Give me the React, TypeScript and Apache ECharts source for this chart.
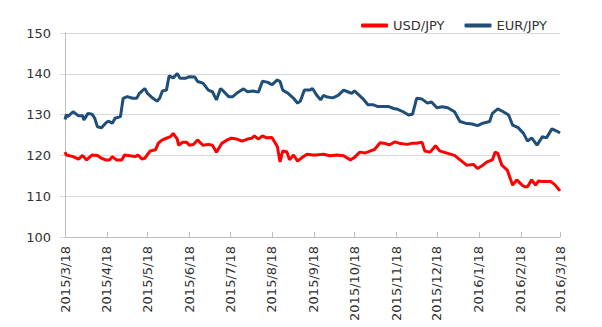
import React, { useEffect, useRef } from "react";
import * as echarts from "echarts";

const xTickLabels = [
  "2015/3/18", "2015/4/18", "2015/5/18", "2015/6/18", "2015/7/18", "2015/8/18", "2015/9/18",
  "2015/10/18", "2015/11/18", "2015/12/18", "2016/1/18", "2016/2/18", "2016/3/18",
];
const yTicks = [100, 110, 120, 130, 140, 150];

const usdDates = [
  "2015/3/18", "2015/3/19", "2015/3/24", "2015/3/28", "2015/3/31", "2015/4/3", "2015/4/7", "2015/4/11",
  "2015/4/14", "2015/4/17", "2015/4/20", "2015/4/22", "2015/4/25", "2015/4/29", "2015/5/1", "2015/5/5",
  "2015/5/9", "2015/5/11", "2015/5/14", "2015/5/16", "2015/5/20", "2015/5/24", "2015/5/26", "2015/5/29",
  "2015/6/1", "2015/6/4", "2015/6/6", "2015/6/9", "2015/6/10", "2015/6/13", "2015/6/16", "2015/6/18",
  "2015/6/21", "2015/6/24", "2015/6/28", "2015/7/2", "2015/7/5", "2015/7/8", "2015/7/12", "2015/7/16",
  "2015/7/19", "2015/7/23", "2015/7/27", "2015/7/31", "2015/8/3", "2015/8/5", "2015/8/8", "2015/8/11",
  "2015/8/14", "2015/8/18", "2015/8/22", "2015/8/24", "2015/8/26", "2015/8/29", "2015/8/31", "2015/9/3",
  "2015/9/6", "2015/9/9", "2015/9/13", "2015/9/17", "2015/9/20", "2015/9/25", "2015/9/30", "2015/10/5",
  "2015/10/10", "2015/10/15", "2015/10/18", "2015/10/22", "2015/10/26", "2015/10/30", "2015/11/2", "2015/11/6",
  "2015/11/10", "2015/11/13", "2015/11/17", "2015/11/21", "2015/11/26", "2015/11/30", "2015/12/3", "2015/12/7",
  "2015/12/9", "2015/12/13", "2015/12/17", "2015/12/20", "2015/12/26", "2015/12/31", "2016/1/6", "2016/1/9",
  "2016/1/14", "2016/1/17", "2016/1/21", "2016/1/24", "2016/1/28", "2016/1/30", "2016/2/1", "2016/2/4",
  "2016/2/8", "2016/2/12", "2016/2/15", "2016/2/19", "2016/2/21", "2016/2/23", "2016/2/26", "2016/2/29",
  "2016/3/2", "2016/3/5", "2016/3/11", "2016/3/14", "2016/3/18",
];
const usdValues = [
  120.8, 120.1, 119.7, 119.1, 120.0, 118.9, 120.1, 120.0,
  119.3, 118.9, 118.9, 119.7, 118.9, 118.9, 120.1, 119.9,
  119.7, 120.1, 119.1, 119.3, 121.1, 121.4, 123.0, 123.8,
  124.2, 124.6, 125.4, 124.0, 122.5, 123.2, 123.2, 122.5,
  122.7, 123.8, 122.5, 122.7, 122.5, 120.8, 123.0, 123.8,
  124.2, 124.0, 123.5, 124.0, 124.2, 124.8, 124.0, 124.8,
  124.3, 124.4, 122.2, 118.4, 121.1, 120.9, 118.9, 120.1,
  118.6, 119.4, 120.3, 120.1, 120.1, 120.3, 119.9, 120.1,
  119.9, 118.9, 119.5, 120.8, 120.6, 121.1, 121.5, 123.1,
  122.9, 122.6, 123.3, 122.9, 122.7, 123.0, 123.0, 123.2,
  121.1, 120.8, 122.4, 121.1, 120.5, 120.0, 118.4, 117.6,
  117.8, 116.8, 117.6, 118.4, 118.9, 120.8, 120.5, 117.6,
  116.4, 112.7, 114.0, 112.7, 112.3, 112.3, 114.0, 112.7,
  113.7, 113.6, 113.6, 112.9, 111.3,
];

const eurDates = [
  "2015/3/18", "2015/3/19", "2015/3/20", "2015/3/24", "2015/3/28", "2015/3/31", "2015/4/1", "2015/4/4",
  "2015/4/7", "2015/4/9", "2015/4/11", "2015/4/14", "2015/4/17", "2015/4/19", "2015/4/22", "2015/4/24",
  "2015/4/28", "2015/4/30", "2015/5/3", "2015/5/7", "2015/5/10", "2015/5/12", "2015/5/16", "2015/5/18",
  "2015/5/22", "2015/5/25", "2015/5/27", "2015/5/29", "2015/6/1", "2015/6/3", "2015/6/6", "2015/6/9",
  "2015/6/11", "2015/6/15", "2015/6/18", "2015/6/22", "2015/6/24", "2015/6/28", "2015/7/2", "2015/7/5",
  "2015/7/8", "2015/7/11", "2015/7/13", "2015/7/17", "2015/7/20", "2015/7/24", "2015/7/28", "2015/7/31",
  "2015/8/4", "2015/8/8", "2015/8/11", "2015/8/15", "2015/8/18", "2015/8/22", "2015/8/24", "2015/8/26",
  "2015/8/30", "2015/9/3", "2015/9/6", "2015/9/8", "2015/9/11", "2015/9/15", "2015/9/17", "2015/9/20",
  "2015/9/23", "2015/9/25", "2015/9/28", "2015/10/2", "2015/10/6", "2015/10/10", "2015/10/13", "2015/10/16",
  "2015/10/18", "2015/10/21", "2015/10/24", "2015/10/28", "2015/11/1", "2015/11/4", "2015/11/8", "2015/11/12",
  "2015/11/16", "2015/11/19", "2015/11/23", "2015/11/27", "2015/11/30", "2015/12/3", "2015/12/7", "2015/12/11",
  "2015/12/14", "2015/12/18", "2015/12/22", "2015/12/26", "2015/12/31", "2016/1/4", "2016/1/8", "2016/1/13",
  "2016/1/17", "2016/1/21", "2016/1/26", "2016/1/28", "2016/2/1", "2016/2/5", "2016/2/9", "2016/2/12",
  "2016/2/16", "2016/2/20", "2016/2/23", "2016/2/26", "2016/3/1", "2016/3/5", "2016/3/8", "2016/3/12",
  "2016/3/16", "2016/3/18",
];
const eurValues = [
  128.8, 130.0, 129.5, 130.7, 129.7, 129.7, 128.7, 130.3,
  130.1, 129.1, 127.0, 126.8, 127.9, 128.4, 127.9, 129.1,
  129.5, 134.0, 134.4, 134.0, 134.0, 135.2, 136.4, 135.2,
  134.0, 133.3, 134.0, 135.8, 136.0, 139.5, 139.0, 140.1,
  138.9, 138.9, 139.3, 139.2, 138.1, 137.7, 136.0, 135.6,
  133.6, 136.4, 135.8, 134.4, 134.4, 135.5, 136.3, 135.6,
  135.8, 135.5, 138.2, 137.9, 137.3, 138.5, 138.1, 136.0,
  135.2, 134.0, 132.8, 133.3, 136.0, 136.0, 136.4, 134.8,
  133.6, 134.7, 134.3, 134.1, 134.7, 136.0, 135.6, 135.2,
  135.8, 134.9, 134.0, 132.4, 132.4, 132.0, 132.0, 132.0,
  131.5, 131.3, 130.7, 129.9, 130.1, 134.0, 133.8, 132.8,
  133.1, 131.7, 131.9, 131.7, 130.7, 128.3, 127.9, 127.7,
  127.3, 127.9, 128.3, 130.3, 131.4, 130.7, 129.9, 127.4,
  126.8, 125.4, 123.5, 124.3, 122.5, 124.6, 124.3, 126.5,
  125.9, 125.5,
];

const toTs = (s: string) => {
  const [y, m, d] = s.split("/").map(Number);
  return Date.UTC(y, m - 1, d);
};
const fmt = (v: number) => {
  const dt = new Date(v);
  return `${dt.getUTCFullYear()}/${dt.getUTCMonth() + 1}/${dt.getUTCDate()}`;
};

const FONT = "'DejaVu Sans', Verdana, sans-serif";

export default function App() {
  const ref = useRef<HTMLDivElement>(null);
  useEffect(() => {
    if (!ref.current) return;
    const chart = echarts.init(ref.current, undefined, { renderer: "svg" });
    const tickTs = xTickLabels.map(toTs);
    chart.setOption({
      animation: false,
      textStyle: { fontFamily: FONT },
      legend: {
        data: ["USD/JPY", "EUR/JPY"],
        right: 50,
        top: 14,
        icon: "roundRect",
        itemWidth: 27,
        itemHeight: 4,
        itemGap: 20,
        textStyle: { fontFamily: FONT, fontSize: 13, color: "#333" },
      },
      grid: {
        left: 65,
        right: 42,
        top: 33,
        bottom: 90,
        containLabel: false,
        outerBoundsMode: "none",
      },
      xAxis: {
        type: "value",
        min: tickTs[0],
        max: tickTs[tickTs.length - 1],
        splitLine: { show: false },
        axisLine: { show: true, lineStyle: { color: "#BFBFBF", width: 1 } },
        axisTick: {
          show: true,
          inside: true,
          length: 5,
          customValues: tickTs,
          lineStyle: { color: "#BFBFBF" },
        },
        axisLabel: {
          customValues: tickTs,
          rotate: 90,
          margin: 9,
          fontSize: 13,
          fontFamily: FONT,
          color: "#333",
          formatter: (v: number) => fmt(v),
        },
      },
      yAxis: {
        type: "value",
        min: yTicks[0],
        max: yTicks[yTicks.length - 1],
        interval: 10,
        axisLine: { show: true, lineStyle: { color: "#BFBFBF", width: 1 } },
        axisTick: { show: true, inside: false, length: 5, lineStyle: { color: "#D9D9D9" } },
        splitLine: { show: true, lineStyle: { color: "#D9D9D9", width: 1 } },
        axisLabel: { fontSize: 13, fontFamily: FONT, color: "#333", margin: 14 },
      },
      series: [
        {
          name: "USD/JPY",
          type: "line",
          showSymbol: false,
          color: "#FF0000",
          lineStyle: { width: 3, color: "#FF0000" },
          data: usdDates.map((d, i) => [toTs(d), usdValues[i]]),
        },
        {
          name: "EUR/JPY",
          type: "line",
          showSymbol: false,
          color: "#1F4E79",
          lineStyle: { width: 3, color: "#1F4E79" },
          data: eurDates.map((d, i) => [toTs(d), eurValues[i]]),
        },
      ],
    });
    return () => chart.dispose();
  }, []);
  return (
    <div
      ref={ref}
      style={{ position: "fixed", left: 0, top: 0, width: 602, height: 327, background: "#fff" }}
    />
  );
}
